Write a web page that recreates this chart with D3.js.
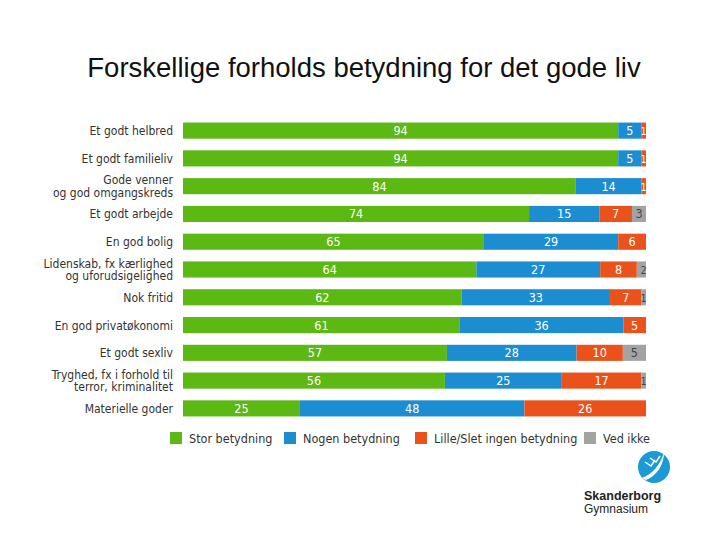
<!DOCTYPE html>
<html><head><meta charset="utf-8">
<script src="https://cdn.jsdelivr.net/npm/d3@7"></script>
<style>body{margin:0;background:#fff}svg{display:block}</style>
</head><body>
<script>
const categories = ["Et godt helbred","Et godt familieliv","Gode venner\nog god omgangskreds","Et godt arbejde","En god bolig","Lidenskab, fx kærlighed\nog uforudsigelighed","Nok fritid","En god privatøkonomi","Et godt sexliv","Tryghed, fx i forhold til\nterror, kriminalitet","Materielle goder"];
const stor  = [94,94,84,74,65,64,62,61,57,56,25];
const nogen = [5,5,14,15,29,27,33,36,28,25,48];
const lille = [1,1,1,7,6,8,7,5,10,17,26];
const vedIkke = [0,0,0,3,0,2,1,0,5,1,0];
const seriesNames = ["Stor betydning","Nogen betydning","Lille/Slet ingen betydning","Ved ikke"];
const colors = ["#5cb812","#1b8dd0","#e9531b","#a3a3a3"];
const title = "Forskellige forholds betydning for det gode liv";

const W=720,H=540;
const svg=d3.select("body").append("svg").attr("width",W).attr("height",H);
svg.append("text").attr("x",364).attr("y",77).attr("text-anchor","middle")
  .attr("font-family","Liberation Sans, Arial, sans-serif").attr("font-size",27.5).attr("fill","#111").text(title);

const keys=["s","n","l","v"];
const rows=categories.map((c,i)=>({cat:c,s:stor[i],n:nogen[i],l:lille[i],v:vedIkke[i]}));
const stack=d3.stack().keys(keys).offset(d3.stackOffsetExpand)(rows);

const x=d3.scaleLinear().domain([0,1]).range([183,646]);
const y=d3.scaleBand().domain(categories).range([117,422]).paddingInner(0.42).paddingOuter(0.2);

const font="DejaVu Sans Condensed, Liberation Sans Narrow, sans-serif";
stack.forEach((layer,k)=>{
  const g=svg.append("g");
  g.selectAll("rect").data(layer).join("rect")
    .attr("x",d=>x(d[0])).attr("width",d=>Math.max(0,x(d[1])-x(d[0])))
    .attr("y",d=>y(d.data.cat)).attr("height",y.bandwidth()).attr("fill",colors[k]);
  g.selectAll("text").data(layer.filter(d=>d.data[keys[k]]>0)).join("text")
    .attr("x",d=>{const w=x(d[1])-x(d[0]); return w<10? x(d[1])-2.5 : (x(d[0])+x(d[1]))/2;})
    .attr("y",d=>y(d.data.cat)+y.bandwidth()/2+4.5)
    .attr("text-anchor","middle").attr("font-family",font).attr("font-size",d=>(x(d[1])-x(d[0]))<10?10:12.5)
    .attr("fill",d=>k===3?"#444":"#fff")
    .text(d=>d.data[keys[k]]);
});

// category labels
const lab=svg.append("g");
categories.forEach(c=>{
  const lines=c.split("\n");
  const cy=y(c)+y.bandwidth()/2;
  lines.forEach((ln,j)=>{
    lab.append("text").attr("text-anchor","end").attr("font-family",font).attr("font-size",12).attr("fill","#333")
      .attr("x",173).attr("y",cy+4.5+(j-(lines.length-1)/2)*12.5).text(ln);
  });
});

// legend
const lx=[170,284,415,584];
const lg=svg.append("g");
seriesNames.forEach((n,i)=>{
  lg.append("rect").attr("x",lx[i]).attr("y",432).attr("width",12).attr("height",12).attr("fill",colors[i]);
  lg.append("text").attr("x",lx[i]+19).attr("y",443).attr("font-family",font).attr("font-size",12.5).attr("fill","#333").text(n);
});

// logo
const logo=svg.append("g");
logo.append("circle").attr("cx",654).attr("cy",467).attr("r",16).attr("fill","#1b9ad6");
logo.append("path").attr("d","M642,478 C652,474 660,466 664,452 C664,466 656,476 646,480 Z").attr("fill","#fff");
logo.append("path").attr("d","M645,462 l6,4 l4,-6 M650,458 l6,4 l4,-6").attr("stroke","#fff").attr("stroke-width",1.5).attr("fill","none");
logo.append("text").attr("x",584).attr("y",500).attr("font-family","Liberation Sans, Arial, sans-serif").attr("font-weight","bold").attr("font-size",12.5).attr("fill","#222").text("Skanderborg");
logo.append("text").attr("x",584).attr("y",513).attr("font-family","Liberation Sans, Arial, sans-serif").attr("font-size",12).attr("fill","#222").text("Gymnasium");
</script>
</body></html>
